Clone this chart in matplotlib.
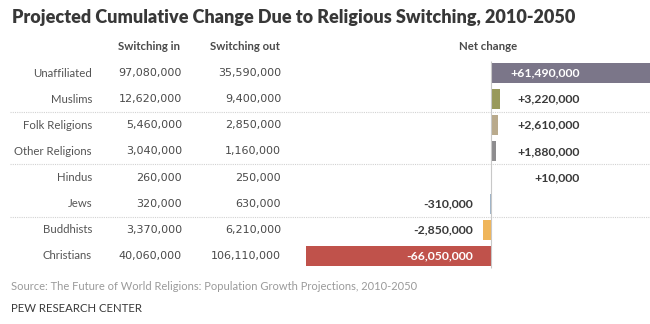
import matplotlib
matplotlib.use("Agg")
import matplotlib.pyplot as plt
import matplotlib.transforms as mtransforms

# Projected switching flows 2010-2050 (people)
groups = ["Unaffiliated", "Muslims", "Folk Religions", "Other Religions",
          "Hindus", "Jews", "Buddhists", "Christians"]
switching_in = [97080000, 12620000, 5460000, 3040000,
                260000, 320000, 3370000, 40060000]
switching_out = [35590000, 9400000, 2850000, 1160000,
                 250000, 630000, 6210000, 106110000]
net_change = [61490000, 3220000, 2610000, 1880000,
              10000, -310000, -2850000, -66050000]
bar_colors = ["#7b7689", "#98995b", "#b9aa8c", "#8d8c8e",
              "#d8b27a", "#9fb4c8", "#efb55a", "#c0524b"]

W, H = 650, 324
fig = plt.figure(figsize=(W / 100, H / 100), dpi=100)
fig.patch.set_facecolor("white")

ax = fig.add_axes([0, 0, 1, 1])
ax.axis("off")

# zero line at 491 px, 2.8 px per million, rows 26.14 px apart
px_per_m = 2.8
zero_px = 491
row_px = 26.14
first_row_px = 73
ax.set_xlim(-zero_px / px_per_m, (W - zero_px) / px_per_m)
ax.set_ylim((H - first_row_px) / row_px, -first_row_px / row_px)

rows = range(len(groups))
net_m = [v / 1e6 for v in net_change]
ax.barh(rows, net_m, height=0.76, color=bar_colors, zorder=2)

# baseline and dotted group separators
ax.vlines(0, -0.45, len(groups) - 1 + 0.45, color="#c8c8c8", lw=0.8, zorder=3)
for y in (1.5, 3.5, 5.5):
    ax.axhline(y, xmin=10 / W, xmax=1, color="#d2d2d2", lw=0.8,
               ls=(0, (1, 1)), zorder=1)

trans = mtransforms.blended_transform_factory(ax.transAxes, ax.transData)
txt = "#4a4a4a"
head_font = ["Lato", "DejaVu Sans"]
for i, g in enumerate(groups):
    ax.text(92 / W, i, g, transform=trans, ha="right", va="center",
            fontsize=8.2, color="#555555", family=head_font)
    ax.text(182 / W, i, f"{switching_in[i]:,}", transform=trans,
            ha="right", va="center", fontsize=8, color=txt)
    ax.text(281 / W, i, f"{switching_out[i]:,}", transform=trans,
            ha="right", va="center", fontsize=8, color=txt)
    v = net_change[i]
    if v >= 0:
        label = f"+{v:,}"
        xr = 580 / W
    else:
        label = f"-{abs(v):,}"
        xr = 473 / W
    color = "white" if abs(v) > 30e6 else "#3a3a3a"
    ax.text(xr, i, label, transform=trans, ha="right", va="center",
            fontsize=8.8, fontweight="bold", color=color, zorder=4,
            family=head_font)

# title, column headers and footer
fig.text(12 / W, 1 - 18 / H,
         "Projected Cumulative Change Due to Religious Switching, 2010-2050",
         ha="left", va="center", fontsize=13, fontweight="heavy",
         color="#383838", family=head_font)
for xc, head in ((149, "Switching in"), (245, "Switching out"), (488, "Net change")):
    fig.text(xc / W, 1 - 46 / H, head, ha="center", va="center", fontsize=8.2,
             fontweight="bold", color="#4a4a4a", family=head_font)
fig.text(11 / W, 1 - 287 / H,
         "Source: The Future of World Religions: Population Growth Projections, 2010-2050",
         ha="left", va="center", fontsize=8, color="#9a9a9a", family=head_font)
fig.text(11 / W, 1 - 309 / H, "PEW RESEARCH CENTER", ha="left", va="center",
         fontsize=8.2, color="#3a3a3a", family=head_font)

fig.savefig("out.png", dpi=100, facecolor="white")
